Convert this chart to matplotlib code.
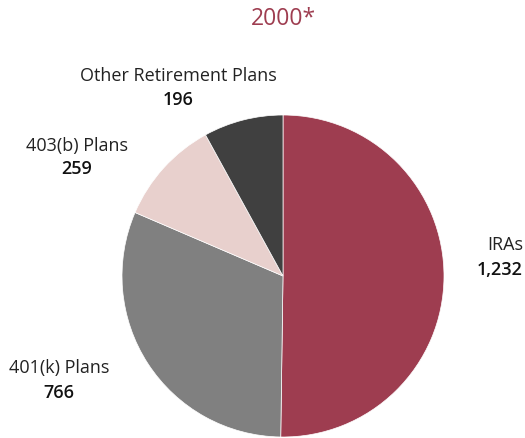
import matplotlib.pyplot as plt

# 数据
labels = ["IRAs", "401(k) Plans", "403(b) Plans", "Other Retirement Plans"]
values = [1232, 766, 259, 196]
value_text = ["1,232", "766", "259", "196"]
colors = ["#9e3d50", "#808080", "#e8d0cd", "#404040"]

plt.rcParams['font.family'] = ['Open Sans', 'DejaVu Sans']

W, H = 525, 438
fig = plt.figure(figsize=(W / 100, H / 100), dpi=100)

# 饼图位置(像素)
cx, cy, r = 283, 276, 161
ax = fig.add_axes([(cx - r) / W, (H - cy - r) / H, 2 * r / W, 2 * r / H])
ax.pie(values, colors=colors, startangle=90, counterclock=False,
       wedgeprops=dict(edgecolor="white", linewidth=0.5))
ax.set_xlim(-1, 1)
ax.set_ylim(-1, 1)
ax.set_aspect("equal")
ax.axis("off")

def px(x, y):
    return x / W, 1 - y / H

fig.text(*px(283, 19), "2000*", color="#9e3d50", fontsize=16.5,
         ha="center", va="center")

# 标签位置 (名称中心, 数值中心)
label_pos = [(523, 245, 270, "right"),
             (59, 368, 393, "center"),
             (77, 146, 169, "center"),
             (178, 76, 100, "center")]
for name, vt, (x, y1, y2, ha) in zip(labels, value_text, label_pos):
    fig.text(*px(x, y1), name, fontsize=13, ha=ha, va="center", color="#222222")
    fig.text(*px(x, y2), vt, fontsize=13, fontweight="semibold", ha=ha, va="center", color="#111111")

fig.savefig("out.png", dpi=100)
